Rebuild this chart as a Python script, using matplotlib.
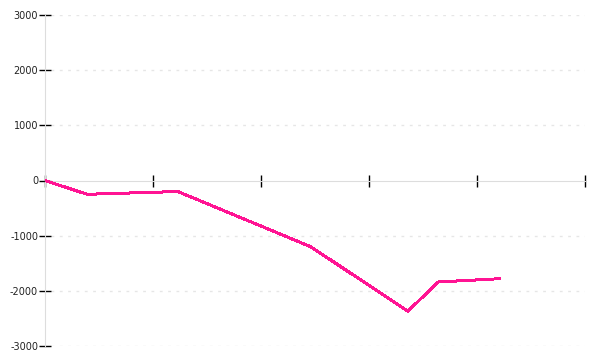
import matplotlib
matplotlib.use("Agg")
import matplotlib.pyplot as plt

# Data (x in tick units, y values)
x_vals = [0.0, 0.39, 1.23, 2.46, 3.36, 3.64, 4.21]
y_vals = [0, -250, -200, -1200, -2370, -1840, -1780]
y_ticks = [-3000, -2000, -1000, 0, 1000, 2000, 3000]
x_ticks = [0, 1, 2, 3, 4, 5]

fig = plt.figure(figsize=(6, 3.6), dpi=100)
ax = fig.add_axes([45/600, 1 - 346/360, 540/600, 331/360])

ax.set_xlim(0, 5)
ax.set_ylim(-3000, 3000)

# grid
for yt in y_ticks:
    if yt != 0:
        ax.plot([0.06, 5], [yt, yt], color="#e6e6e6", linewidth=1,
                linestyle=(0, (2, 4)), zorder=0)

ax.plot(x_vals, y_vals, color="#ff1493", linewidth=1.44, antialiased=False, zorder=3)

for s in ["top", "right"]:
    ax.spines[s].set_visible(False)
ax.spines["left"].set_color("#dddddd")
ax.spines["bottom"].set_color("#dddddd")
ax.spines["bottom"].set_position(("data", 0))

ax.set_yticks(y_ticks)
ax.set_yticklabels([str(v) for v in y_ticks])
ax.set_xticks(x_ticks)
ax.set_xticklabels([""] * len(x_ticks))
ax.tick_params(axis="y", direction="inout", length=8, width=1, color="black",
               labelsize=7, pad=1, labelcolor="#222222")
ax.tick_params(axis="x", direction="inout", length=9, width=1, color="black")
for lab in ax.get_yticklabels():
    lab.set_family("DejaVu Sans")

fig.savefig("out.png", dpi=100)
